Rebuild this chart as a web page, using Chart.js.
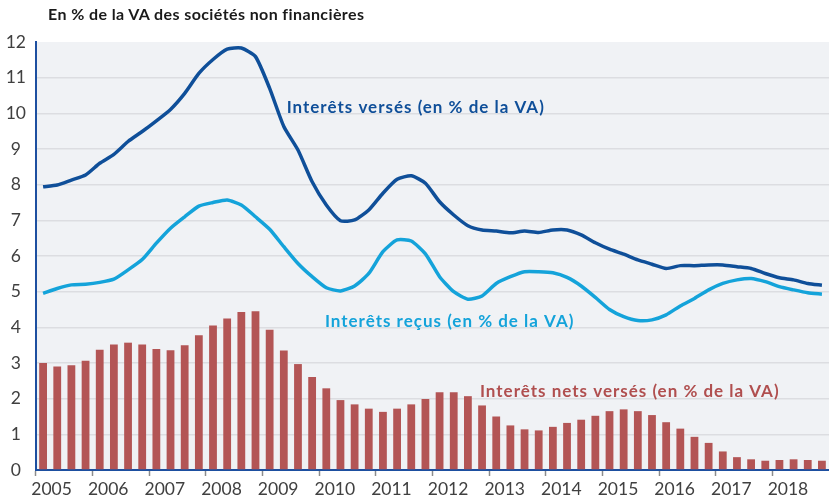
<!DOCTYPE html>
<html lang="fr">
<head>
<meta charset="utf-8">
<script src="https://cdn.jsdelivr.net/npm/chart.js@4.4.1/dist/chart.umd.min.js"></script>
<style>
  body { margin: 0; background: #fff; }
  #wrap { position: relative; width: 829px; height: 501px; }
  #title { position: absolute; left: 48px; top: 4px; font: bold 16px Lato, sans-serif; letter-spacing: 0.4px; color: #1a1a1a; }
</style>
</head>
<body>
<div id="wrap">
  <div id="title">En % de la VA des sociétés non financières</div>
  <canvas id="chart"></canvas>
</div>
<script>
const years = ["2005", "2006", "2007", "2008", "2009", "2010", "2011", "2012", "2013", "2014", "2015", "2016", "2017", "2018"];

const quarters = [];
years.forEach(y => { for (let q = 1; q <= 4; q++) quarters.push(y + "T" + q); });

const interetsVerses = [
    7.94, 7.99, 8.13, 8.27, 8.60, 8.85, 9.21, 9.49, 9.79, 10.11, 10.56, 11.12, 11.51, 11.80, 11.83, 11.59,
    10.70, 9.63, 8.97, 8.08, 7.43, 6.99, 7.01, 7.29, 7.76, 8.15, 8.25, 8.04, 7.52, 7.15, 6.85, 6.73,
    6.70, 6.65, 6.70, 6.66, 6.73, 6.73, 6.59, 6.37, 6.19, 6.05, 5.89, 5.77, 5.65, 5.73, 5.73, 5.75,
    5.75, 5.70, 5.65, 5.51, 5.39, 5.33, 5.23, 5.18
];

const interetsRecus = [
    4.95, 5.09, 5.19, 5.21, 5.26, 5.35, 5.61, 5.90, 6.36, 6.78, 7.10, 7.40, 7.50, 7.57, 7.43, 7.10,
    6.75, 6.26, 5.79, 5.42, 5.11, 5.02, 5.16, 5.51, 6.12, 6.45, 6.42, 6.06, 5.42, 5.00, 4.79, 4.88,
    5.23, 5.42, 5.56, 5.56, 5.53, 5.40, 5.16, 4.84, 4.50, 4.30, 4.19, 4.21, 4.35, 4.60, 4.81, 5.05,
    5.23, 5.33, 5.37, 5.28, 5.14, 5.05, 4.97, 4.93
];

const interetsNets = [
    3.00, 2.90, 2.94, 3.06, 3.37, 3.52, 3.57, 3.52, 3.39, 3.36, 3.50, 3.78, 4.05, 4.25, 4.43, 4.45,
    3.93, 3.35, 2.97, 2.61, 2.29, 1.96, 1.84, 1.72, 1.63, 1.72, 1.84, 1.99, 2.18, 2.18, 2.07, 1.81,
    1.50, 1.25, 1.14, 1.11, 1.21, 1.32, 1.41, 1.52, 1.65, 1.70, 1.65, 1.54, 1.34, 1.16, 0.93, 0.76,
    0.52, 0.36, 0.30, 0.26, 0.28, 0.30, 0.28, 0.26
];

// text labels inside the plot, anchored on the quarter axis and the value axis
const seriesLabels = [
    { text: "Interêts versés (en % de la VA)", color: "#0f4f99", at: 17.2, value: 10.15 },
    { text: "Interêts reçus (en % de la VA)", color: "#14a3da", at: 19.9, value: 4.15 },
    { text: "Interêts nets versés (en % de la VA)", color: "#b04f4f", at: 30.85, value: 2.19 }
];

const plotBackground = {
    id: "plotBackground",
    beforeDraw(chart) {
        const { ctx, chartArea: a } = chart;
        ctx.save();
        ctx.fillStyle = "#f0f2f5";
        ctx.fillRect(a.left, a.top, a.right - a.left, a.bottom - a.top);
        ctx.restore();
    }
};

const seriesText = {
    id: "seriesText",
    afterDatasetsDraw(chart) {
        const { ctx, scales } = chart;
        ctx.save();
        ctx.font = "bold 17px Lato, sans-serif";
        ctx.letterSpacing = "1px";
        ctx.textBaseline = "middle";
        ctx.textAlign = "left";
        seriesLabels.forEach(l => {
            ctx.fillStyle = l.color;
            ctx.fillText(l.text, scales.x.getPixelForValue(l.at), scales.y.getPixelForValue(l.value));
        });
        ctx.restore();
    }
};

new Chart(document.getElementById("chart"), {
    data: {
        labels: quarters,
        datasets: [
            {
                type: "line",
                data: interetsVerses,
                borderColor: "#0f4f99",
                borderWidth: 3.5,
                pointRadius: 0,
                tension: 0.2,
                order: 1
            },
            {
                type: "line",
                data: interetsRecus,
                borderColor: "#14a3da",
                borderWidth: 3.5,
                pointRadius: 0,
                tension: 0.2,
                order: 2
            },
            {
                type: "bar",
                data: interetsNets,
                backgroundColor: "#b35555",
                categoryPercentage: 1,
                barPercentage: 0.55,
                order: 3
            }
        ]
    },
    options: {
        responsive: true,
        maintainAspectRatio: false,
        animation: false,
        layout: { padding: { top: 42, left: 0, right: 0, bottom: 0 } },
        plugins: { legend: { display: false }, tooltip: { enabled: false } },
        scales: {
            x: {
                offset: true,
                afterFit: s => { s.height = 31; },
                grid: {
                    offset: true,
                    drawOnChartArea: false,
                    tickLength: 6,
                    tickWidth: 1.5,
                    tickColor: c => c.index % 4 === 0 ? "#8c8c8c" : "rgba(0,0,0,0)"
                },
                border: { color: "#1d4fa0", width: 2 },
                ticks: {
                    autoSkip: false,
                    maxRotation: 0,
                    padding: 3,
                    labelOffset: 8.5,
                    color: "#404040",
                    font: { family: "Lato, sans-serif", size: 17.5 },
                    callback: (v, i) => i % 4 === 0 ? years[i / 4] : ""
                }
            },
            y: {
                min: 0,
                max: 12,
                afterFit: s => { s.width = 36; },
                grid: {
                    drawTicks: false,
                    lineWidth: 1.5,
                    color: c => (c.tick && (c.tick.value === 12 || c.tick.value === 0)) ? "rgba(0,0,0,0)" : "#dcdde1"
                },
                border: { color: "#1d4fa0", width: 2 },
                ticks: {
                    stepSize: 1,
                    padding: 10,
                    crossAlign: "center",
                    color: "#404040",
                    font: { family: "Lato, sans-serif", size: 17.5 }
                }
            }
        }
    },
    plugins: [plotBackground, seriesText]
});
</script>
</body>
</html>
